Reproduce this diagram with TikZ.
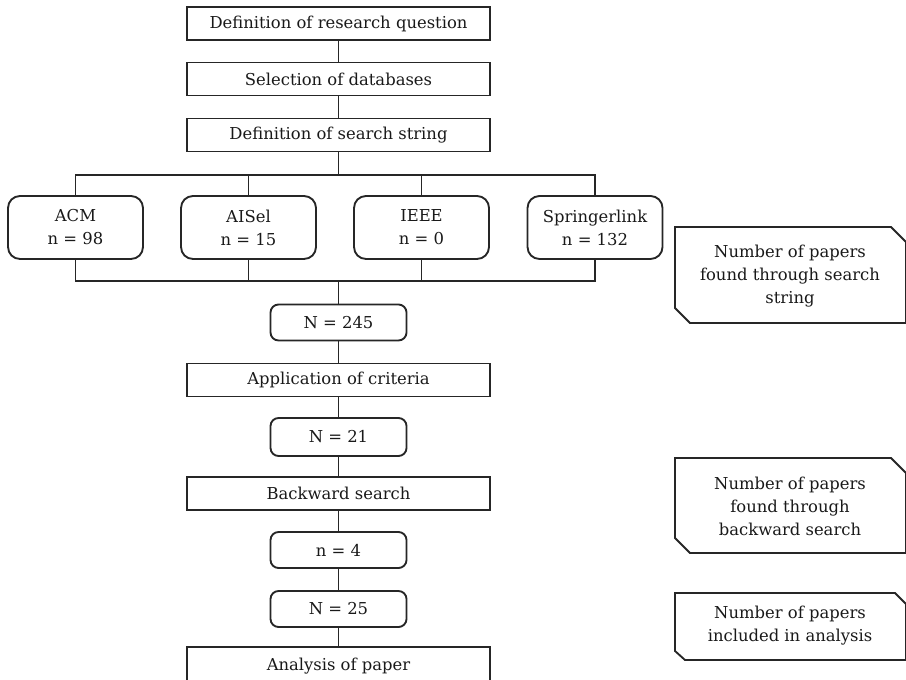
\documentclass[tikz,border=0pt]{standalone}
\usepackage{fontspec}
\setmainfont{DejaVu Serif}
\begin{document}
\begin{tikzpicture}[x=0.75pt,y=-0.75pt,
  every node/.style={font=\fontsize{12.3}{17.3}\selectfont, text=black!90},
  line/.style={draw=black!85, line width=1.4pt},
  stepbox/.style={line, rectangle, minimum width=303*0.75pt, minimum height=33*0.75pt, inner sep=0pt},
  dbbox/.style={line, rectangle, rounded corners=9pt, minimum width=135*0.75pt, minimum height=63*0.75pt, inner sep=0pt, align=center},
  cntbox/.style={line, rectangle, rounded corners=6pt, minimum width=136*0.75pt, minimum height=36*0.75pt, inner sep=0pt},
  note/.style={align=center, inner sep=0pt}
]
\useasboundingbox (0,0) rectangle (906,680);
\clip (0,0) rectangle (906,680);

% main steps
\node[stepbox] (rq) at (338.5,23.5) {Definition of research question};
\node[stepbox] (db) at (338.5,79) {Selection of databases};
\node[stepbox] (ss) at (338.5,135) {Definition of search string};

\node[dbbox] (acm) at (75.5,227.5) {ACM\\n = 98};
\node[dbbox] (ais) at (248.5,227.5) {AISel\\n = 15};
\node[dbbox] (iee) at (421.5,227.5) {IEEE\\n = 0};
\node[dbbox] (spr) at (595,227.5) {Springerlink\\n = 132};

\node[cntbox] (n245) at (338.5,322.5) {N = 245};
\node[stepbox] (crit) at (338.5,380) {Application of criteria};
\node[cntbox, minimum height=38*0.75pt] (n21) at (338.5,437) {N = 21};
\node[stepbox] (back) at (338.5,493.5) {Backward search};
\node[cntbox] (n4) at (338.5,550) {n = 4};
\node[cntbox] (n25) at (338.5,609) {N = 25};
\node[stepbox, minimum height=38*0.75pt] (ana) at (338.5,666) {Analysis of paper};

% connectors
\coordinate (top) at (338.5,175);
\coordinate (bot) at (338.5,281);
\draw[line] (rq) -- (db);
\draw[line] (db) -- (ss);
\draw[line] (ss) -- (top);
\draw[line] (acm.north) |- (top) -| (spr.north);
\draw[line] (ais.north) -- (ais.north |- top);
\draw[line] (iee.north) -- (iee.north |- top);
\draw[line] (acm.south) |- (bot) -| (spr.south);
\draw[line] (ais.south) -- (ais.south |- bot);
\draw[line] (iee.south) -- (iee.south |- bot);
\draw[line] (bot) -- (n245);
\draw[line] (n245) -- (crit);
\draw[line] (crit) -- (n21);
\draw[line] (n21) -- (back);
\draw[line] (back) -- (n4);
\draw[line] (n4) -- (n25);
\draw[line] (n25) -- (ana);

% callouts
\draw[line] (675,227) -- (891,227) -- (906,242) -- (906,323) -- (690,323) -- (675,308) -- cycle;
\node[note] (c1) at (790,276) {Number of papers\\found through search\\string};

\draw[line] (675,458) -- (891,458) -- (906,473) -- (906,553) -- (690,553) -- (675,538) -- cycle;
\node[note] (c2) at (790,506) {Number of papers\\found through\\backward search};

\draw[line] (675,593) -- (895,593) -- (906,604) -- (906,660) -- (685,660) -- (675,651) -- cycle;
\node[note] (c3) at (790,626) {Number of papers\\included in analysis};
\end{tikzpicture}
\end{document}
